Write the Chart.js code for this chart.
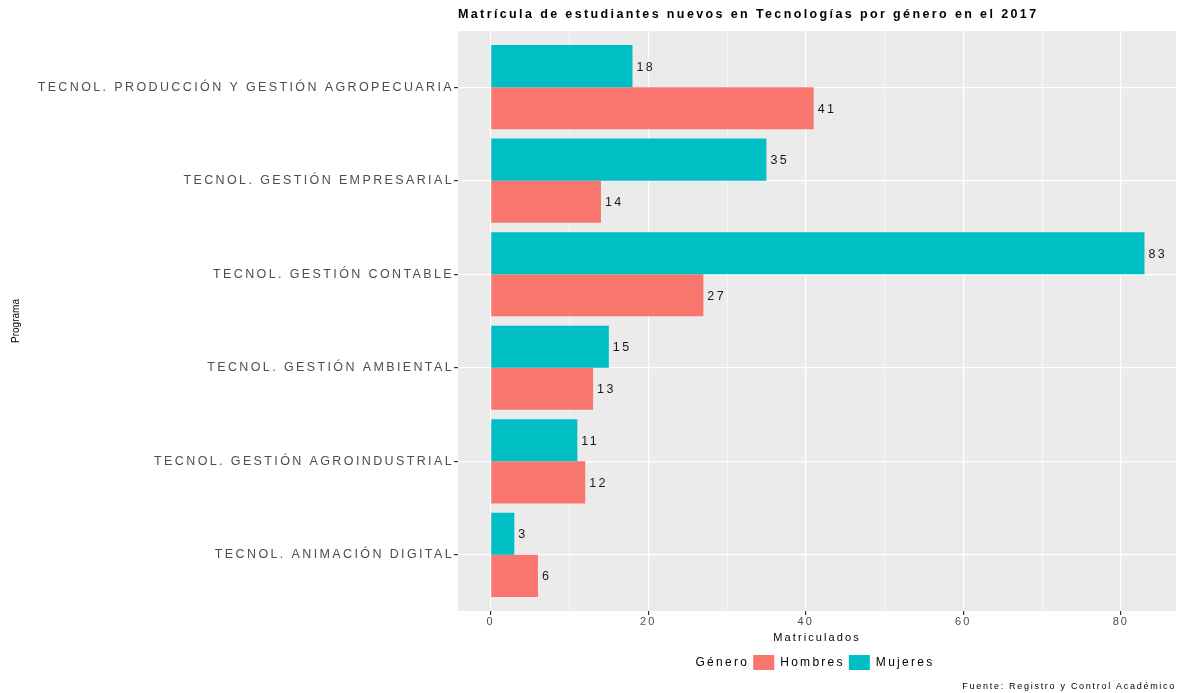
<!DOCTYPE html>
<html>
<head>
<meta charset="utf-8">
<script src="https://cdn.jsdelivr.net/npm/chart.js@4"></script>
<style>
  html, body { margin: 0; padding: 0; background: #fff; }
  #wrap { width: 1181px; height: 693px; }
</style>
</head>
<body>
<div id="wrap"><canvas id="bar-chart"></canvas></div>
<script>
// Matricula 2017, tecnologias por genero
let programas = [
  'TECNOL. PRODUCCIÓN Y GESTIÓN AGROPECUARIA',
  'TECNOL. GESTIÓN EMPRESARIAL',
  'TECNOL. GESTIÓN CONTABLE',
  'TECNOL. GESTIÓN AMBIENTAL',
  'TECNOL. GESTIÓN AGROINDUSTRIAL',
  'TECNOL. ANIMACIÓN DIGITAL',
];
let mujeres = [18, 35, 83, 15, 11, 3];
let hombres = [41, 14, 27, 13, 12, 6];
let xTicks = [0, 10, 20, 30, 40, 50, 60, 70, 80];
let xLabels = [0, 20, 40, 60, 80];

let colorHombres = '#F8766D';
let colorMujeres = '#00BFC4';
let fontFamily = '"Liberation Sans", Arial, Helvetica, sans-serif';

// the reference text looks stretched sideways, so widen letters in proportion to font size
function stretchText(ctx) {
  let fontProp = Object.getOwnPropertyDescriptor(CanvasRenderingContext2D.prototype, 'font');
  Object.defineProperty(ctx, 'font', {
    get() { return fontProp.get.call(this); },
    set(v) {
      fontProp.set.call(this, v);
      let m = /([\d.]+)px/.exec(v);
      this.letterSpacing = m ? (parseFloat(m[1]) * 0.19).toFixed(2) + 'px' : '0px';
    },
  });
  let fill = ctx.fillText;
  ctx.fillText = function (text, x, y, w) {
    // rotated axis title is not stretched
    if (this.getTransform().b !== 0) this.letterSpacing = '0px';
    return w === undefined ? fill.call(this, text, x, y) : fill.call(this, text, x, y, w);
  };
}

// grey ggplot panel
let panelPlugin = {
  id: 'panel',
  beforeDraw(chart) {
    let a = chart.chartArea;
    let ctx = chart.ctx;
    ctx.save();
    ctx.fillStyle = '#EBEBEB';
    ctx.fillRect(a.left, a.top, a.right - a.left, a.bottom - a.top);
    ctx.restore();
  },
};

// value next to each bar
let valuePlugin = {
  id: 'values',
  afterDatasetsDraw(chart) {
    let ctx = chart.ctx;
    ctx.save();
    ctx.font = '12.5px ' + fontFamily;
    ctx.fillStyle = '#1A1A1A';
    ctx.textAlign = 'left';
    ctx.textBaseline = 'middle';
    chart.data.datasets.forEach((ds, i) => {
      chart.getDatasetMeta(i).data.forEach((bar, j) => {
        ctx.fillText(ds.data[j].x, bar.x + 4, bar.y + 1);
      });
    });
    ctx.restore();
  },
};

let invisible = 'rgba(0,0,0,0)';

let renderChart = () => {
  let canvas = document.getElementById('bar-chart');
  stretchText(canvas.getContext('2d'));

  new Chart(canvas, {
    type: 'bar',
    data: {
      datasets: [
        { label: 'Mujeres', data: mujeres.map((v, i) => ({ x: v, y: i })), backgroundColor: colorMujeres },
        { label: 'Hombres', data: hombres.map((v, i) => ({ x: v, y: i })), backgroundColor: colorHombres },
      ],
    },
    plugins: [panelPlugin, valuePlugin],
    options: {
      indexAxis: 'y',
      responsive: true,
      maintainAspectRatio: false,
      animation: false,
      datasets: {
        bar: { categoryPercentage: 0.9, barPercentage: 1.0, borderWidth: 0 },
      },
      layout: { padding: { left: 0, right: 5, top: 0, bottom: 0.6 } },
      scales: {
        x: {
          type: 'linear',
          min: -4.15,
          max: 87,
          afterBuildTicks: (scale) => {
            scale.ticks = xTicks.map(v => ({ value: v }));
          },
          afterFit: (scale) => { scale.height = 40; },
          border: { display: false },
          grid: {
            color: '#FFFFFF',
            lineWidth: (c) => (xLabels.includes(c.tick.value) ? 1.2 : 0.6),
            tickColor: (c) => (xLabels.includes(c.tick.value) ? '#333333' : invisible),
            tickLength: 4,
          },
          ticks: {
            autoSkip: false,
            maxRotation: 0,
            padding: 0.5,
            color: '#4D4D4D',
            font: { family: fontFamily, size: 11 },
            callback: (v) => (xLabels.includes(v) ? v : ''),
          },
          title: {
            display: true,
            text: 'Matriculados',
            color: '#000000',
            font: { family: fontFamily, size: 11 },
            padding: { top: 0, bottom: 6.4 },
          },
        },
        y: {
          type: 'linear',
          reverse: true,
          offset: false,
          min: -0.6,
          max: programas.length - 0.4,
          afterBuildTicks: (scale) => {
            scale.ticks = programas.map((p, i) => ({ value: i }));
          },
          afterFit: (scale) => { scale.width = 458; },
          border: { display: false },
          grid: {
            offset: false,
            color: '#FFFFFF',
            lineWidth: 1.2,
            tickColor: '#333333',
            tickLength: 4,
          },
          ticks: {
            autoSkip: false,
            padding: 0,
            color: '#4D4D4D',
            font: { family: fontFamily, size: 12.5 },
            callback: (v) => programas[v],
          },
          title: {
            display: true,
            text: 'Programa',
            color: '#000000',
            font: { family: fontFamily, size: 10 },
            padding: { top: 10, bottom: 0 },
          },
        },
      },
      plugins: {
        title: {
          display: true,
          text: 'Matrícula de estudiantes nuevos en Tecnologías por género en el 2017',
          align: 'start',
          fullSize: false,
          color: '#000000',
          font: { family: fontFamily, size: 12.5, weight: 'bold' },
          padding: { top: 7.5, bottom: 8.5 },
        },
        subtitle: {
          display: true,
          position: 'bottom',
          align: 'end',
          text: 'Fuente: Registro y Control Académico',
          color: '#000000',
          font: { family: fontFamily, size: 9 },
          padding: { top: 1.6, bottom: 0 },
        },
        legend: {
          display: true,
          position: 'bottom',
          fullSize: false,
          labels: {
            boxWidth: 21,
            boxHeight: 15,
            padding: 4,
            color: '#000000',
            font: { family: fontFamily, size: 12 },
            // "Género" sits left of the keys, like the ggplot legend title
            generateLabels: () => [
              { text: 'Género', fillStyle: invisible, strokeStyle: invisible, lineWidth: 0, hidden: false },
              { text: 'Hombres', fillStyle: colorHombres, strokeStyle: colorHombres, lineWidth: 0, hidden: false, datasetIndex: 1 },
              { text: 'Mujeres', fillStyle: colorMujeres, strokeStyle: colorMujeres, lineWidth: 0, hidden: false, datasetIndex: 0 },
              { text: '', fillStyle: invisible, strokeStyle: invisible, lineWidth: 0, hidden: false },
            ],
          },
        },
        tooltip: { enabled: false },
      },
    },
  });
};

renderChart();
</script>
</body>
</html>
